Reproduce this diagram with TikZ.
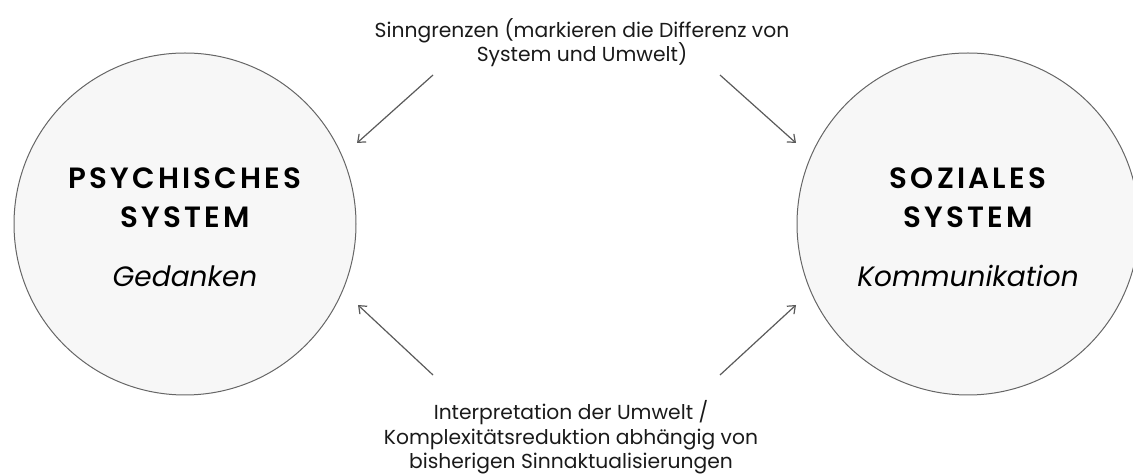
\documentclass[tikz,border=0pt]{standalone}
\usepackage{fontspec}
\setmainfont{Poppins}
\newfontfamily\capsfont[LetterSpace=11]{Poppins SemiBold}
\usetikzlibrary{arrows.meta, positioning}
\definecolor{cfill}{HTML}{F7F7F7}
\definecolor{cline}{HTML}{666666}
\definecolor{carrow}{HTML}{5A5A5A}
\definecolor{ctext}{HTML}{1A1A1A}

\begin{document}
\begin{tikzpicture}[x=0.75pt, y=0.75pt,
  sysbox/.style={circle, fill=cfill, draw=cline, line width=0.75pt, minimum size=256.5pt, inner sep=0pt},
  systitle/.style={font=\capsfont\fontsize{22}{29.25}\selectfont, align=center, inner sep=0pt, anchor=north},
  sysitem/.style={font=\itshape\fontsize{21}{26}\selectfont, inner sep=0pt, anchor=base},
  note/.style={font=\fontsize{15.2}{18.5}\selectfont, align=center, inner sep=0pt, text=ctext, anchor=north},
  link/.style={draw=carrow, line width=0.9pt, -{Straight Barb[length=5pt, width=8pt]}}]
  \useasboundingbox (0,0) rectangle (1133,475);
  % die beiden Systeme
  \node[sysbox] (psy) at (185,251) {};
  \node[sysbox] (soz) at (968,251) {};
  \node[systitle] (psyname) at (185,308) {PSYCHISCHES\\SYSTEM};
  \node[systitle] (sozname) at (968,308) {SOZIALES\\SYSTEM};
  \node[sysitem] (psyitem) at (185,188) {Gedanken};
  \node[sysitem] (sozitem) at (968,188) {Kommunikation};
  % Beschriftungen
  \node[note] (grenze) at (582,457) {Sinngrenzen (markieren die Differenz von\\System und Umwelt)};
  \node[note] (interp) at (571,75) {Interpretation der Umwelt /\\Komplexitätsreduktion abhängig von\\bisherigen Sinnaktualisierungen};
  % Pfeile
  \coordinate (gl) at (433,400);
  \coordinate (gr) at (720,400);
  \coordinate (il) at (433,100);
  \coordinate (ir) at (720,100);
  \coordinate (psyT) at (357,332);
  \coordinate (sozT) at (796,332);
  \coordinate (psyB) at (358,170);
  \coordinate (sozB) at (796,170);
  \draw[link] (gl) -- (psyT);
  \draw[link] (gr) -- (sozT);
  \draw[link] (il) -- (psyB);
  \draw[link] (ir) -- (sozB);
\end{tikzpicture}
\end{document}
